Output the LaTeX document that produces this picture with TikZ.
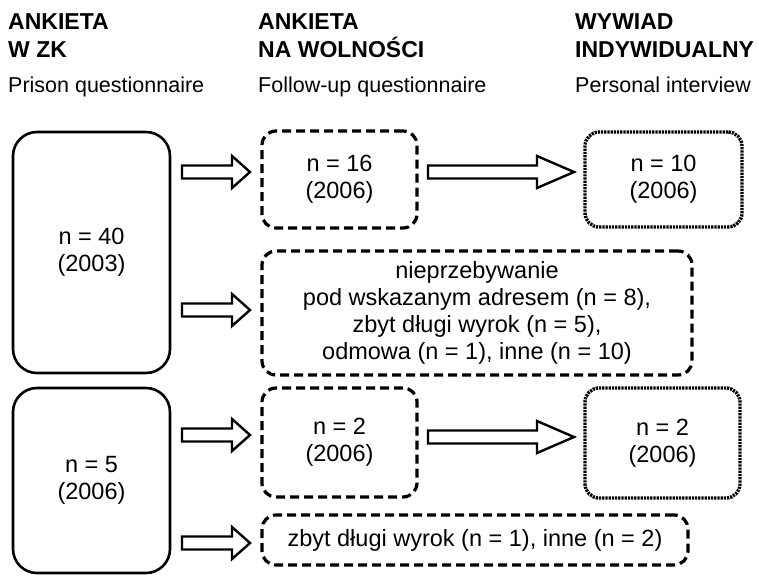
\documentclass[tikz,border=0pt]{standalone}
\usepackage{fontspec}
\setmainfont{Liberation Sans}
\usetikzlibrary{calc}

\tikzset{
  every node/.style={font=\fontsize{23.5}{27}\selectfont},
  solidbox/.style={draw, line width=2.6pt, rounded corners=24pt, align=center},
  dashbox/.style={draw, line width=3.2pt, dash pattern=on 9pt off 5pt, rounded corners=14pt, align=center},
  dotbox/.style={draw, line width=3.4pt, dash pattern=on 2.2pt off 1pt, rounded corners=14pt, align=center},
  blockarrow/.style={draw, line width=2.4pt, line join=miter},
  header/.style={anchor=base west, inner sep=0pt, font=\fontsize{23}{28}\selectfont\bfseries},
  subhead/.style={anchor=base west, inner sep=0pt, font=\fontsize{21.5}{26}\selectfont},
}

% hollow block arrow: start, end, head length
\newcommand{\hollowarrow}[3]{%
  \draw[blockarrow] let \p1=(#1), \p2=(#2) in
    (\x1,\y1+6.5pt) -- (\x2-#3,\y1+6.5pt) -- (\x2-#3,\y1+16pt) -- (\x2,\y1)
    -- (\x2-#3,\y1-16pt) -- (\x2-#3,\y1-6.5pt) -- (\x1,\y1-6.5pt) -- cycle;}

\begin{document}
\begin{tikzpicture}[x=1pt, y=-1pt]
\useasboundingbox (0,0) rectangle (759,575);

% column headings
\node[header] (zkA) at (8,30) {ANKIETA};
\node[header] (zkB) at (8,58) {W ZK};
\node[subhead] (zkC) at (8,93) {Prison questionnaire};
\node[header] (wolA) at (258,30) {ANKIETA};
\node[header] (wolB) at (258,58) {NA WOLNOŚCI};
\node[subhead] (wolC) at (258,93) {Follow-up questionnaire};
\node[header] (wywA) at (575,30) {WYWIAD};
\node[header] (wywB) at (575,58) {INDYWIDUALNY};
\node[subhead] (wywC) at (575,93) {Personal interview};

% boxes
\node[solidbox, minimum width=157pt, minimum height=241pt] (zk40) at (91.5,252.5) {n = 40\\(2003)};
\node[solidbox, minimum width=157pt, minimum height=185pt] (zk5) at (91.5,480.5) {n = 5\\(2006)};
\node[dashbox, minimum width=155pt, minimum height=97pt] (wol16) at (339.5,179.5) {n = 16\\(2006)};
\node[dotbox, minimum width=157pt, minimum height=95pt] (wyw10) at (663.5,179.5) {n = 10\\(2006)};
\node[dashbox, minimum width=430pt, minimum height=124pt] (odp40) at (477,313)
  {nieprzebywanie\\pod wskazanym adresem (n = 8),\\zbyt długi wyrok (n = 5),\\odmowa (n = 1), inne (n = 10)};
\node[dashbox, minimum width=155pt, minimum height=109pt] (wol2) at (339.5,442.5) {n = 2\\(2006)};
\node[dotbox, minimum width=155pt, minimum height=110pt] (wyw2) at (662.5,443) {n = 2\\(2006)};
\node[dashbox, minimum width=426pt, minimum height=50pt] (odp5) at (475,540)
  {zbyt długi wyrok (n = 1), inne (n = 2)};

% arrow ends
\coordinate (s1) at (182,172); \coordinate (e1) at (250,172);
\coordinate (s2) at (182,310); \coordinate (e2) at (250,310);
\coordinate (s3) at (182,435); \coordinate (e3) at (250,435);
\coordinate (s4) at (182,543); \coordinate (e4) at (250,543);
\coordinate (s5) at (428,172); \coordinate (e5) at (574,172);
\coordinate (s6) at (428,437); \coordinate (e6) at (574,437);

\hollowarrow{s1}{e1}{18pt}
\hollowarrow{s2}{e2}{18pt}
\hollowarrow{s3}{e3}{18pt}
\hollowarrow{s4}{e4}{18pt}
\hollowarrow{s5}{e5}{37pt}
\hollowarrow{s6}{e6}{37pt}
\end{tikzpicture}
\end{document}
